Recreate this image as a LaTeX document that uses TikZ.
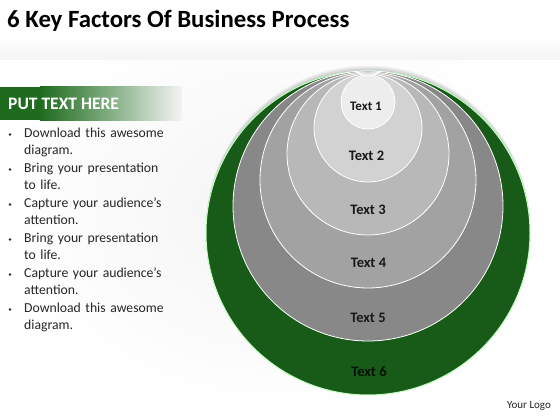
\documentclass[tikz,border=0pt]{standalone}
\usepackage{fontspec}
\setmainfont{Carlito}
\usetikzlibrary{shadings}
\definecolor{dgreen}{HTML}{185A18}
\definecolor{bargreen}{HTML}{1E6B1E}
\definecolor{cfive}{HTML}{888888}
\definecolor{cfour}{HTML}{A2A2A2}
\definecolor{cthree}{HTML}{B8B8B8}
\definecolor{ctwo}{HTML}{D2D2D2}
\definecolor{cone}{HTML}{EDEDED}
\definecolor{bg}{HTML}{F4F4F4}
\tikzset{
  ring/.style={draw=white, line width=0.8pt},
  lbl/.style={font=\bfseries\fontsize{14.5}{16}\selectfont, text=black!90},
  bul/.style={font=\fontsize{13.7}{17.5}\selectfont, text=black!85, anchor=north west, align=left, text width=145pt, inner sep=0pt}
}
\begin{document}
\begin{tikzpicture}[x=1pt,y=-1pt]
\useasboundingbox (0,0) rectangle (560,420);
\shade[inner color=bg, outer color=white] (0,0) rectangle (560,420);
\fill[white] (0,0) rectangle (560,38);
\shade[top color=white, bottom color=bg] (0,38) rectangle (560,60);
% title
\node[anchor=west, inner sep=0pt, font=\bfseries\fontsize{24.8}{28}\selectfont] (title) at (7,21) {6 Key Factors Of Business Process};
% green bar
\fill[bargreen] (0,87) rectangle (40,120);
\shade[left color=bargreen, right color=bargreen!55!white] (40,87) rectangle (110,120);
\shade[left color=bargreen!55!white, right color=bg] (110,87) rectangle (182,120);
\node[anchor=west, inner sep=0pt, text=white, font=\bfseries\fontsize{17.5}{20}\selectfont] (head) at (8,103.5) {PUT TEXT HERE};
% bullets
\foreach \t [count=\i] in {{Download this awesome diagram.},{Bring your presentation to life.},{Capture your audience’s attention.},{Bring your presentation to life.},{Capture your audience’s attention.},{Download this awesome diagram.}}{
  \node[bul] (b\i) at (24,{127.5+(\i-1)*35}) {\t};
  \fill[black!85] (10,{134.5+(\i-1)*35}) circle (1.4);
}
% top shadow
\begin{scope}
\clip (150,40) rectangle (590,233);
\foreach \k in {1,...,6}{
  \fill[black, opacity=0.035] (368,{233-\k*0.9}) circle (162);
}
\end{scope}
% circles
\fill[dgreen] (368,233) circle (162);
\draw[green!25!white, line width=1pt] (368,233) circle (162);
\filldraw[ring, fill=cfive] (368,206) circle (135);
\filldraw[ring, fill=cfour] (368,180) circle (108);
\filldraw[ring, fill=cthree] (368,154) circle (81);
\filldraw[ring, fill=ctwo] (368,128) circle (54);
\filldraw[ring, fill=cone] (368,102) circle (27);
% labels
\node[lbl, font=\bfseries\fontsize{13}{14}\selectfont] (t1) at (366,106) {Text 1};
\node[lbl] (t2) at (366.5,156) {Text 2};
\node[lbl] (t3) at (368,210) {Text 3};
\node[lbl] (t4) at (368.5,263) {Text 4};
\node[lbl] (t5) at (368,318) {Text 5};
\node[lbl, text=black!80!dgreen] (t6) at (369,372) {Text 6};
\node[anchor=center, inner sep=0pt, font=\fontsize{11}{13}\selectfont, text=black!85] (logo) at (529,406) {Your Logo};
\end{tikzpicture}
\end{document}
